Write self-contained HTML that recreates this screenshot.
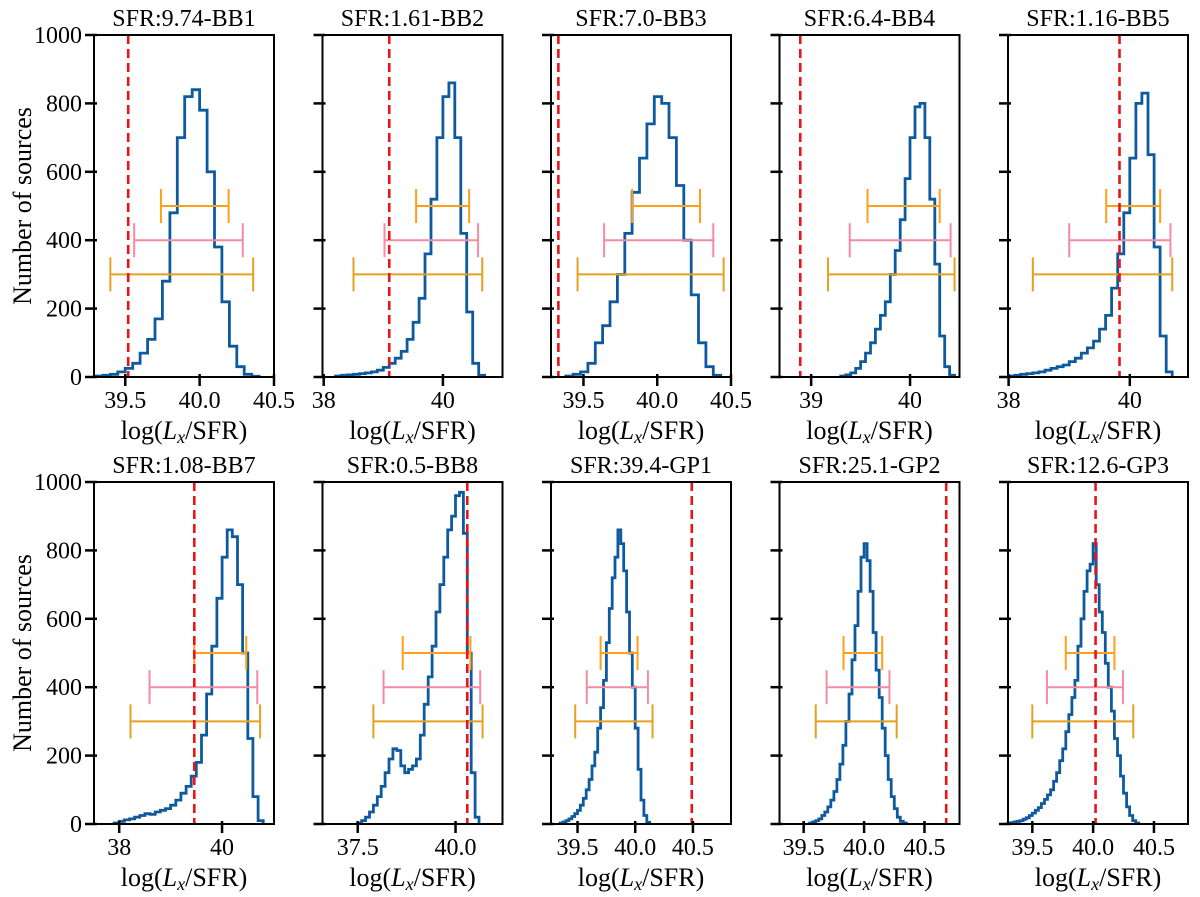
<!DOCTYPE html>
<html><head><meta charset="utf-8"><style>
html,body{margin:0;padding:0;background:#fff;}
svg{display:block;font-family:"Liberation Serif","DejaVu Serif",serif;}
</style></head><body>
<svg id="chart" width="1200" height="897" viewBox="0 0 1200 897" xmlns="http://www.w3.org/2000/svg"></svg>
<script>
const titles = ["SFR:9.74-BB1","SFR:1.61-BB2","SFR:7.0-BB3","SFR:6.4-BB4","SFR:1.16-BB5","SFR:1.08-BB7","SFR:0.5-BB8","SFR:39.4-GP1","SFR:25.1-GP2","SFR:12.6-GP3"];
const xMins = [39.29,37.98,39.28,38.68,37.99,37.51,36.6,39.27,39.3,39.3];
const xMaxs = [40.5,41.0,40.5,40.5,40.96,41.01,41.2,40.83,40.79,40.78];
const xTicks = [[39.5,40.0,40.5],[38,40],[39.5,40.0,40.5],[39,40],[38,40],[38,40],[37.5,40.0],[39.5,40.0,40.5],[39.5,40.0,40.5],[39.5,40.0,40.5]];
const xTickLabels = [["39.5","40.0","40.5"],["38","40"],["39.5","40.0","40.5"],["39","40"],["38","40"],["38","40"],["37.5","40.0"],["39.5","40.0","40.5"],["39.5","40.0","40.5"],["39.5","40.0","40.5"]];
const yTicks = [0,200,400,600,800,1000];
const redLines = [39.52,39.1,39.33,38.89,39.83,39.46,40.3,40.49,40.68,40.02];
const binStarts = [39.30,38.2,39.38,39.30,38.0,37.9,37.5,39.35,39.55,39.3];
const binWidths = [0.05,0.1,0.05,0.05,0.1,0.1,0.1,0.025,0.025,0.025];
const counts1 = [3,5,8,15,25,40,70,110,170,280,480,700,820,840,780,600,380,220,90,30,8,2];
const counts2 = [3,5,6,8,10,12,15,20,28,40,55,75,110,160,230,360,520,700,820,860,700,420,190,40,5];
const counts3 = [3,8,15,40,100,150,220,300,420,540,640,740,820,800,700,560,400,240,100,30,5];
const counts4 = [3,6,12,25,45,70,100,140,180,220,300,370,460,580,700,790,800,700,520,330,120,30,5];
const counts5 = [3,5,8,10,12,15,20,25,30,35,45,55,70,85,105,140,180,260,360,480,640,800,830,650,380,120,15];
const counts6 = [3,8,12,15,20,25,30,28,35,40,45,55,70,90,110,140,180,260,380,520,660,780,860,840,700,500,250,80,10];
const counts7 = [3,10,20,35,55,80,110,150,190,220,215,170,150,160,170,190,260,350,430,520,620,700,780,860,900,960,970,850,500,150,20];
const counts8 = [3,6,10,15,22,30,40,55,75,100,130,170,210,280,340,420,530,630,720,780,860,820,740,620,500,400,280,160,70,25,5];
const counts9 = [3,6,10,15,25,35,50,70,95,130,175,230,300,380,480,580,680,780,820,770,680,560,450,370,280,200,130,80,45,20,8,3];
const counts10 = [3,4,6,8,10,14,18,25,32,40,48,60,72,85,100,125,150,185,220,270,320,370,420,520,600,680,740,760,820,700,620,560,470,400,330,250,200,140,90,50,25,10,3];
const allCounts = [counts1,counts2,counts3,counts4,counts5,counts6,counts7,counts8,counts9,counts10];
const errTop = [[39.74,40.195],[39.55,40.44],[39.83,40.29],[39.57,40.30],[39.61,40.50],[39.46,40.47],[38.65,40.38],[39.70,40.02],[39.83,40.15],[39.775,40.175]];
const errMid = [[39.56,40.29],[39.02,40.59],[39.64,40.38],[39.39,40.41],[39.00,40.67],[38.59,40.685],[38.16,40.63],[39.58,40.11],[39.69,40.21],[39.62,40.245]];
const errLow = [[39.40,40.36],[38.50,40.66],[39.46,40.45],[39.17,40.45],[38.40,40.70],[38.22,40.74],[37.90,40.69],[39.48,40.15],[39.60,40.27],[39.50,40.33]];
const errYs = [500,400,300];

const NS = "http://www.w3.org/2000/svg";
const svg = document.getElementById("chart");
function mk(tag, attrs, parent){
  const e = document.createElementNS(NS, tag);
  for (const k in attrs) e.setAttribute(k, attrs[k]);
  (parent||svg).appendChild(e);
  return e;
}
const lefts = [94,322.5,551,779.5,1008];
const tops = [35,482];
const W = 180, H = 342;
const errColors = ["#ff9f1a","#f48ba0","#e5a020"];

for (let p = 0; p < 10; p++) {
  const col = p % 5, row = Math.floor(p / 5);
  const L = lefts[col], T = tops[row], B = T + H;
  const xs = v => L + (v - xMins[p]) / (xMaxs[p] - xMins[p]) * W;
  const ys = v => B - v / 1000 * H;
  const g = mk("g", {});
  
  

  const c = allCounts[p];
  let d = "M" + xs(binStarts[p]).toFixed(1) + " " + ys(0).toFixed(1);
  for (let i = 0; i < c.length; i++) {
    d += " V" + ys(c[i]).toFixed(1) + " H" + xs(binStarts[p] + (i+1)*binWidths[p]).toFixed(1);
  }
  d += " V" + ys(0).toFixed(1);
  const hist = mk("path", {d: d, fill: "none", stroke: "#0e5a9e", "stroke-width": 2.8, "stroke-linejoin": "miter"}, g);
  
  

  const bars = [errTop[p], errMid[p], errLow[p]];
  for (let k = 0; k < 3; k++) {
    const y = ys(errYs[k]);
    const x1 = xs(bars[k][0]), x2 = xs(bars[k][1]);
    const eg = mk("g", {stroke: errColors[k], "stroke-width": 2, fill: "none"}, g);
    
    
    mk("line", {x1: x1, x2: x2, y1: y, y2: y}, eg);
    mk("line", {x1: x1, x2: x1, y1: y-17, y2: y+17}, eg);
    mk("line", {x1: x2, x2: x2, y1: y-17, y2: y+17}, eg);
  }

  const rx = xs(redLines[p]);
  const rl = mk("line", {x1: rx, x2: rx, y1: T, y2: B, stroke: "#e8141a", "stroke-width": 2.6, "stroke-dasharray": "9,5"}, g);
  
  

  const fr = mk("rect", {x: L, y: T, width: W, height: H, fill: "none", stroke: "#000", "stroke-width": 2}, g);
  
  

  for (const t of yTicks) {
    const y = ys(t);
    const tk = mk("line", {x1: L-9, x2: L+3, y1: y, y2: y, stroke: "#000", "stroke-width": 2.5}, g);
    
    
    if (col === 0) {
      const tl = mk("text", {x: L-12, y: y+8, "text-anchor": "end", "font-size": 24}, g);
      
      
      tl.textContent = t;
    }
  }
  for (let i = 0; i < xTicks[p].length; i++) {
    const x = xs(xTicks[p][i]);
    const tk = mk("line", {x1: x, x2: x, y1: B-3, y2: B+9, stroke: "#000", "stroke-width": 2.5}, g);
    
    
    const tl = mk("text", {x: x, y: B+31, "text-anchor": "middle", "font-size": 24}, g);
    
    
    tl.textContent = xTickLabels[p][i];
  }
  const xl = mk("text", {x: L + W/2, y: B+62, "text-anchor": "middle", "font-size": 26}, g);
  
  
  xl.innerHTML = 'log(<tspan font-style="italic">L</tspan><tspan font-style="italic" font-size="18" dy="4">x</tspan><tspan dy="-4">/SFR)</tspan>';
  const tt = mk("text", {x: L + W/2, y: T-9, "text-anchor": "middle", "font-size": 24}, g);
  
  
  tt.textContent = titles[p];
}
for (let row = 0; row < 2; row++) {
  const cy = tops[row] + H/2;
  const yl = mk("text", {x: 0, y: 0, transform: "translate(31," + cy + ") rotate(-90)", "text-anchor": "middle", "font-size": 26});
  
  
  yl.textContent = "Number of sources";
}
</script>
</body></html>
